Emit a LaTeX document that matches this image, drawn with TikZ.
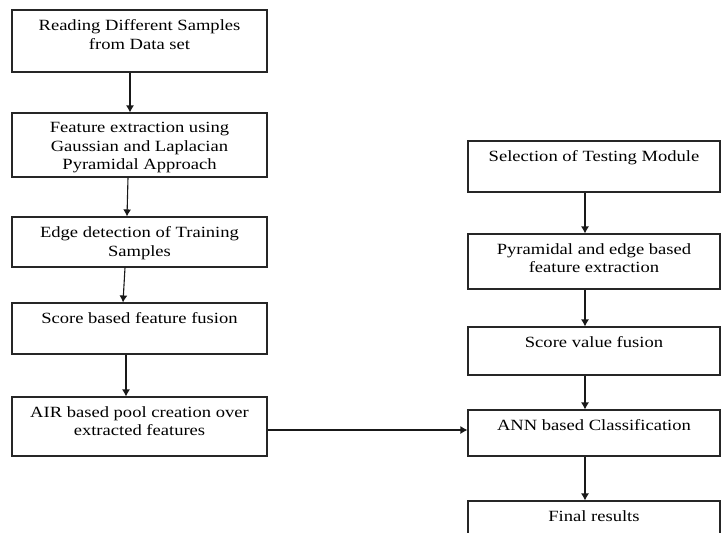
\documentclass[tikz,border=0pt]{standalone}
\usepackage{fontspec}
\setmainfont{Liberation Serif}[FakeStretch=1.19]
\usetikzlibrary{arrows.meta}
\begin{document}
\begin{tikzpicture}[x=1pt,y=-1pt,
  box/.style={draw=black!85, line width=1.1pt, rectangle, inner sep=0pt},
  lbox/.style={box, minimum width=255},
  rbox/.style={box, minimum width=252},
  txt/.style={anchor=north, align=center, inner sep=0pt, yshift=-10,
    font=\fontsize{15.6}{18.5}\selectfont},
  arr/.style={draw=black!90, line width=1.1pt, -{Latex[length=7pt,width=8pt]}}]
\useasboundingbox (0,0) rectangle (721,533);
% left column
\node[lbox, minimum height=62] (b1) at (139.5,41) {};
\node[txt] (t1) at (b1.north) {Reading Different Samples\\from Data set};
\node[lbox, minimum height=64] (b2) at (139.5,145) {};
\node[txt] (t2) at (b2.north) {Feature extraction using\\Gaussian and Laplacian\\Pyramidal Approach};
\node[lbox, minimum height=50] (b3) at (139.5,242) {};
\node[txt] (t3) at (b3.north) {Edge detection of Training\\Samples};
\node[lbox, minimum height=51] (b4) at (139.5,328.5) {};
\node[txt] (t4) at (b4.north) {Score based feature fusion};
\node[lbox, minimum height=59] (b5) at (139.5,426.5) {};
\node[txt] (t5) at (b5.north) {AIR based pool creation over\\extracted features};
% right column
\node[rbox, minimum height=51] (r1) at (594,166.5) {};
\node[txt] (u1) at (r1.north) {Selection of Testing Module};
\node[rbox, minimum height=55] (r2) at (594,261.5) {};
\node[txt] (u2) at (r2.north) {Pyramidal and edge based\\feature extraction};
\node[rbox, minimum height=48] (r3) at (594,351) {};
\node[txt] (u3) at (r3.north) {Score value fusion};
\node[rbox, minimum height=46] (r4) at (594,433) {};
\node[txt] (u4) at (r4.north) {ANN based Classification};
\node[rbox, minimum height=60] (r5) at (594,531) {};
\node[txt] (u5) at (r5.north) {Final results};
% connectors
\draw[arr] (b1.south -| 130,0) -- (b2.north -| 130,0);
\draw[arr] (b2.south -| 128,0) -- (b3.north -| 127,0);
\draw[arr] (b3.south -| 125,0) -- (b4.north -| 123,0);
\draw[arr] (b4.south -| 126,0) -- (b5.north -| 126,0);
\draw[arr] (b5.east |- 0,430) -- (r4.west |- 0,430);
\draw[arr] (r1.south -| 585,0) -- (r2.north -| 585,0);
\draw[arr] (r2.south -| 585,0) -- (r3.north -| 585,0);
\draw[arr] (r3.south -| 585,0) -- (r4.north -| 585,0);
\draw[arr] (r4.south -| 585,0) -- (r5.north -| 585,0);
\end{tikzpicture}
\end{document}
